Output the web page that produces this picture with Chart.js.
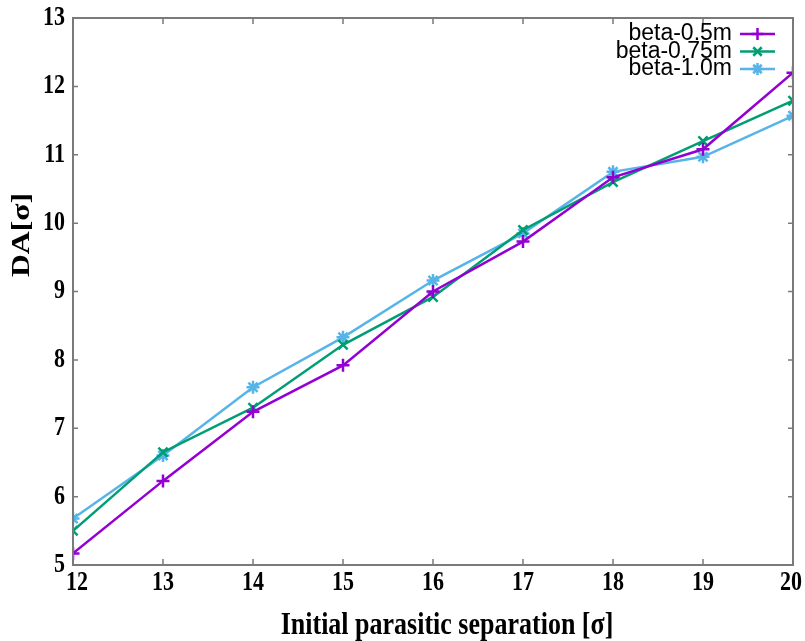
<!DOCTYPE html>
<html>
<head>
<meta charset="utf-8">
<script src="https://cdn.jsdelivr.net/npm/chart.js@4.4.1/dist/chart.umd.min.js"></script>
<style>
  html, body { margin: 0; padding: 0; background: #fff; }
  canvas { display: block; }
</style>
</head>
<body>
<canvas id="myChart" width="805" height="641"></canvas>
<script>
// separation values on the x axis
var separation = [12, 13, 14, 15, 16, 17, 18, 19, 20];

// dynamic aperture for each beta
var beta05 = [5.17, 6.23, 7.24, 7.92, 9.0, 9.73, 10.67, 11.08, 12.2];
var beta075 = [5.5, 6.65, 7.3, 8.22, 8.92, 9.9, 10.6, 11.2, 11.79];
var beta10 = [5.68, 6.6, 7.6, 8.33, 9.16, 9.85, 10.75, 10.97, 11.57];

var labels = ['beta-0.5m', 'beta-0.75m', 'beta-1.0m'];
var colors = ['#9400d3', '#009e73', '#56b4e9'];
var marks = ['cross', 'crossRot', 'star'];

var xTicks = [12, 13, 14, 15, 16, 17, 18, 19, 20];
var yTicks = [5, 6, 7, 8, 9, 10, 11, 12, 13];
var xTitle = 'Initial parasitic separation [σ]';
var yTitle = 'DA[σ]';

var serif = '"Liberation Serif", "Times New Roman", serif';
var stretch = 1.22;   // tall bold serif text

let pts = function(vals) {
  return vals.map((v, i) => ({ x: separation[i], y: v }));
}

let makeSet = function(i, vals) {
  return {
    label: labels[i],
    data: pts(vals),
    borderColor: colors[i],
    backgroundColor: colors[i],
    borderWidth: 2.5,
    pointStyle: marks[i],
    pointRadius: 6.5,
    pointBorderWidth: 2.5,
    tension: 0,
    fill: false
  }
}

// text stretched vertically
let tallText = function(c, txt, x, y, rot) {
  c.save();
  c.translate(x, y);
  if (rot) {
    c.rotate(-Math.PI / 2);
    c.scale(stretch, 1);
  } else {
    c.scale(1, stretch);
  }
  c.fillText(txt, 0, 0);
  c.restore();
}

// gnuplot style frame with inward ticks, labels and key
const frame = {
  id: 'frame',
  afterDraw(chart) {
    const c = chart.ctx;
    const a = chart.chartArea;
    const xs = chart.scales.x, ys = chart.scales.y;
    c.save();
    c.strokeStyle = '#7a7a7a';
    c.lineWidth = 2;
    c.strokeRect(a.left, a.top, a.right - a.left, a.bottom - a.top);
    c.lineWidth = 1.5;
    c.beginPath();
    xTicks.forEach(t => {
      let px = xs.getPixelForValue(t);
      c.moveTo(px, a.bottom); c.lineTo(px, a.bottom - 6);
      c.moveTo(px, a.top); c.lineTo(px, a.top + 6);
    });
    yTicks.forEach(t => {
      let py = ys.getPixelForValue(t);
      c.moveTo(a.left, py); c.lineTo(a.left + 5, py);
      c.moveTo(a.right, py); c.lineTo(a.right - 5, py);
    });
    c.stroke();

    // tick labels (end ones nudged inwards)
    c.fillStyle = '#000';
    c.font = 'bold 22px ' + serif;
    c.textAlign = 'center';
    c.textBaseline = 'middle';
    xTicks.forEach((t, i) => {
      let dx = i === 0 ? 4 : (i === xTicks.length - 1 ? -2 : 0);
      tallText(c, String(t), xs.getPixelForValue(t) + dx, a.bottom + 18, false);
    });
    c.textAlign = 'right';
    yTicks.forEach(t => {
      tallText(c, String(t), a.left - 8, ys.getPixelForValue(t), false);
    });

    // axis titles
    c.font = 'bold 26px ' + serif;
    c.textAlign = 'center';
    c.textBaseline = 'alphabetic';
    tallText(c, xTitle, 447, 634, false);
    c.textBaseline = 'middle';
    tallText(c, yTitle, 22, 235, true);

    // key in the top right corner
    c.font = '23px "Liberation Sans", Arial, sans-serif';
    c.textAlign = 'right';
    c.textBaseline = 'middle';
    labels.forEach((l, i) => {
      let y = 34 + i * 17.5;
      c.fillStyle = '#000';
      c.fillText(l, 732, y);
      c.strokeStyle = colors[i];
      c.lineWidth = 2.5;
      c.beginPath();
      c.moveTo(740, y); c.lineTo(775, y);
      c.stroke();
      Chart.helpers.drawPoint(c, { pointStyle: marks[i], radius: 6, borderWidth: 2.5 }, 757.5, y);
    });
    c.restore();
  }
}

const ctx = document.getElementById('myChart').getContext('2d');
const myChart = new Chart(ctx, {
  type: 'line',
  data: {
    datasets: [makeSet(0, beta05), makeSet(1, beta075), makeSet(2, beta10)]
  },
  options: {
    responsive: false,
    animation: false,
    layout: { padding: { top: 18, right: 12, left: 0, bottom: 0 } },
    plugins: {
      legend: { display: false },
      tooltip: { enabled: false }
    },
    scales: {
      x: {
        type: 'linear',
        min: 12,
        max: 20,
        afterBuildTicks: s => { s.ticks = xTicks.map(v => ({ value: v })) },
        afterFit: s => { s.height = 76 },
        grid: { display: false },
        border: { display: false },
        ticks: { display: false }
      },
      y: {
        min: 5,
        max: 13,
        afterBuildTicks: s => { s.ticks = yTicks.map(v => ({ value: v })) },
        afterFit: s => { s.width = 73 },
        grid: { display: false },
        border: { display: false },
        ticks: { display: false }
      }
    }
  },
  plugins: [frame]
});
</script>
</body>
</html>
